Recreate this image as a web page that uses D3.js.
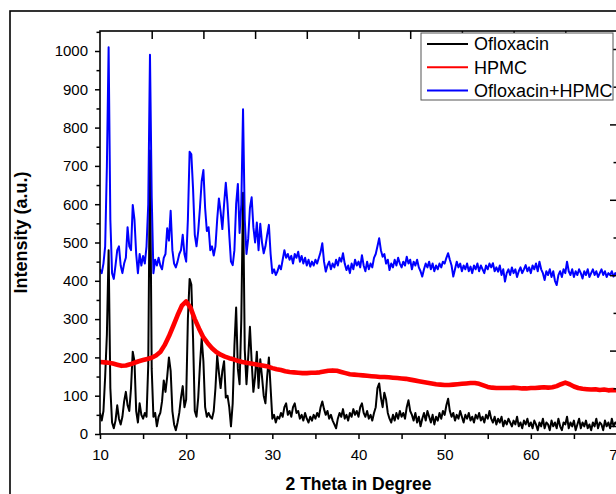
<!DOCTYPE html>
<html>
<head>
<meta charset="utf-8">
<script src="https://cdn.jsdelivr.net/npm/d3@7"></script>
<style>
  body { margin: 0; background: #fff; }
  svg { display: block; font-family: "Liberation Sans", Arial, sans-serif; }
</style>
</head>
<body>
<svg id="chart"></svg>
<script>
// diffractograms, 2 theta from 10 to 70 in steps of 0.2 degree
const thetaStart = 10, thetaStep = 0.2;

const ofloxacin = [
  55, 35, 60, 150, 260, 480, 120, 30, 15, 35,
  75, 40, 25, 45, 85, 110, 75, 60, 120, 215,
  190, 60, 30, 80, 50, 40, 55, 45, 180, 740,
  170, 45, 55, 20, 45, 55, 85, 140, 110, 150,
  200, 165, 60, 25, 10, 30, 55, 95, 125, 70,
  90, 300, 405, 390, 250, 60, 45, 95, 180, 250,
  190, 70, 45, 55, 45, 40, 60, 120, 205, 160,
  120, 165, 190, 95, 100, 70, 20, 80, 230, 330,
  170, 130, 300, 630, 220, 130, 200, 280, 190, 110,
  150, 215, 120, 195, 150, 100, 80, 150, 200, 120,
  40, 50, 30, 45, 40, 55, 45, 70, 80, 50,
  60, 45, 70, 80, 55, 60, 40, 50, 35, 55,
  40, 30, 45, 35, 50, 40, 55, 45, 70, 85,
  65, 50, 60, 40, 50, 35, 25, 15, 40, 55,
  45, 65, 40, 50, 35, 55, 45, 65, 50, 60,
  45, 70, 80, 55, 45, 60, 40, 50, 35, 55,
  70, 120, 132, 95, 70, 108, 90, 55, 40, 30,
  50, 35, 55, 40, 60, 45, 55, 40, 70, 88,
  60, 50, 35, 55, 30, 45, 20, 40, 55, 35,
  60, 45, 30, 50, 25, 45, 35, 55, 40, 60,
  50, 75, 92, 60, 45, 55, 35, 50, 40, 60,
  45, 30, 50, 40, 55, 35, 45, 30, 50, 40,
  55, 35, 45, 30, 50, 40, 60, 40, 30, 45,
  25, 40, 30, 45, 20, 35, 25, 40, 30, 20,
  35, 25, 45, 20, 30, 15, 35, 25, 40, 20,
  30, 15, 35, 25, 10, 30, 20, 40, 15, 30,
  25, 10, 35, 20, 30, 15, 40, 20, 10, 30,
  25, 45, 15, 30, 20, 35, 10, 25, 40, 15,
  30, 20, 35, 15, 25, 10, 30, 20, 40, 15,
  30, 25, 10, 35, 20, 30, 15, 40, 20, 30,
  25
];

const ofloxacinHpmc = [
  430, 420, 445, 490, 700, 1010, 560, 420, 405, 440,
  480, 490, 440, 420, 445, 460, 540, 490, 480, 598,
  560, 470, 420, 470, 440, 465, 445, 490, 600, 990,
  620, 420, 455, 440, 460, 440, 430, 460, 470, 537,
  505, 583, 480, 445, 435, 450, 470, 480, 520, 470,
  450, 560, 737, 730, 640, 520, 490, 530, 590, 660,
  689, 590, 530, 540, 480, 490, 466, 490, 560, 615,
  580, 535, 600, 656, 600, 520, 450, 441, 480, 600,
  653, 525, 600, 848, 560, 470, 510, 590, 618, 540,
  500, 552, 480, 549, 500, 472, 490, 520, 546, 470,
  420, 430, 415, 425, 440, 430, 455, 480, 460, 470,
  455, 465, 445, 470, 460, 476, 450, 465, 445, 460,
  440, 455, 437, 450, 440, 455, 445, 460, 475, 498,
  450, 424, 440, 450, 430, 445, 435, 455, 440, 460,
  450, 472, 445, 428, 440, 420, 445, 430, 455, 440,
  450, 435, 467, 440, 425, 450, 430, 445, 435, 460,
  470, 490, 511, 480, 463, 470, 445, 455, 428, 445,
  435, 455, 440, 460, 445, 435, 450, 440, 463, 445,
  455, 430, 450, 440, 455, 435, 425, 411, 430, 445,
  435, 450, 430, 445, 425, 440, 430, 445, 435, 450,
  445, 460, 472, 455, 440, 411, 430, 450, 435, 445,
  425, 440, 430, 445, 425, 437, 420, 440, 430, 445,
  425, 440, 430, 420, 440, 430, 445, 435, 446, 425,
  435, 424, 440, 415, 430, 398, 420, 430, 415, 435,
  420, 430, 410, 425, 435, 420, 430, 441, 425, 435,
  420, 440, 430, 445, 425, 450, 430, 420, 402, 425,
  415, 430, 410, 425, 400, 389, 415, 425, 410, 430,
  420, 450, 425, 415, 430, 410, 425, 415, 430, 420,
  406, 425, 415, 430, 410, 420, 430, 415, 425, 410,
  420, 430, 415, 425, 410, 420, 415, 425, 411, 420,
  415
];

// HPMC is a broad hump, read every 0.5 degree
const hpmcTheta = d3.range(10, 70.01, 0.5);
const hpmc = [
  188, 187, 186, 184, 181, 178, 179, 182, 186, 190,
  193, 196, 199, 205, 214, 232, 255, 282, 310, 335,
  346, 330, 300, 275, 252, 237, 224, 214, 207, 202,
  198, 195, 191, 188, 186, 184, 182, 180, 178, 176,
  172, 169, 167, 164, 162, 161, 160, 159, 159, 160,
  160, 161, 163, 165, 166, 165, 162, 159, 156, 155,
  154, 153, 152, 151, 150, 149, 149, 148, 147, 146,
  145, 144, 142, 140, 138, 136, 134, 132, 130, 129,
  128, 128, 129, 130, 131, 132, 133, 133, 131, 127,
  123, 121, 120, 120, 120, 120, 121, 120, 119, 119,
  120, 120, 121, 122, 121, 122, 125, 130, 134, 130,
  124, 120, 118, 117, 116, 117, 115, 116, 114, 115,
  114
];

const seriesNames = ["Ofloxacin", "HPMC", "Ofloxacin+HPMC"];
const seriesColors = ["#000000", "#ff0000", "#0000ff"];
const xTickValues = [10, 15, 20, 25, 30, 35, 40, 45, 50, 55, 60, 65, 70];
const yMajorTicks = [0, 100, 200, 300, 400, 500, 600, 700, 800, 900, 1000];
const yMinorTicks = [50, 150, 250, 350, 450, 550, 650, 750, 850, 950, 1050];

drawChart();

function toPoints(values, thetas) {
    return values.map(function (v, i) {
        return { theta: thetas ? thetas[i] : thetaStart + i * thetaStep, value: v };
    });
}

function drawChart() {
    let svgWidth = 616, svgHeight = 494;
    let plot = { left: 100, right: 617, top: 31, bottom: 434 };

    let svg = d3.select('#chart')
        .attr("width", svgWidth)
        .attr("height", svgHeight);

    svg.append("rect")
        .attr("width", svgWidth).attr("height", svgHeight)
        .attr("fill", "#fff");

    // outer graph frame
    svg.append("rect")
        .attr("x", 10).attr("y", 11)
        .attr("width", 700).attr("height", 600)
        .attr("fill", "none")
        .attr("stroke", "#000")
        .attr("stroke-width", 1.6);

    let x = d3.scaleLinear().domain([10, 70]).range([plot.left, plot.right]);
    let y = d3.scaleLinear().domain([0, 1000]).range([plot.bottom, 51]);

    svg.append("clipPath").attr("id", "plotClip")
        .append("rect")
        .attr("x", plot.left).attr("y", plot.top)
        .attr("width", plot.right - plot.left)
        .attr("height", plot.bottom - plot.top);

    let line = d3.line()
        .x(function (d) { return x(d.theta); })
        .y(function (d) { return y(d.value); });

    let series = [
        { data: toPoints(ofloxacin), color: seriesColors[0], width: 2 },
        { data: toPoints(hpmc, hpmcTheta), color: seriesColors[1], width: 4.6 },
        { data: toPoints(ofloxacinHpmc), color: seriesColors[2], width: 2 }
    ];

    let lines = svg.append("g").attr("clip-path", "url(#plotClip)");
    series.forEach(function (s) {
        lines.append("path")
            .datum(s.data)
            .attr("fill", "none")
            .attr("stroke", s.color)
            .attr("stroke-width", s.width)
            .attr("stroke-linejoin", "round")
            .attr("d", line);
    });

    // left axis: minor then major ticks
    svg.append("g")
        .attr("transform", "translate(" + plot.left + ",0)")
        .call(d3.axisLeft(y).tickValues(yMinorTicks).tickSize(3.5).tickSizeOuter(0).tickFormat(""))
        .call(function (g) { g.select(".domain").remove(); });

    svg.append("g")
        .attr("transform", "translate(" + plot.left + ",0)")
        .call(d3.axisLeft(y).tickValues(yMajorTicks).tickSize(5).tickSizeOuter(0).tickPadding(7)
            .tickFormat(d3.format("d")))
        .call(function (g) { g.select(".domain").remove(); })
        .selectAll("text")
        .attr("font-size", 15)
        .attr("font-family", "Liberation Sans, Arial, sans-serif");

    // bottom axis
    svg.append("g")
        .attr("transform", "translate(0," + plot.bottom + ")")
        .call(d3.axisBottom(x).tickValues(xTickValues).tickSize(5).tickSizeOuter(0).tickPadding(10)
            .tickFormat(function (d) { return d % 10 === 0 ? d : ""; }))
        .call(function (g) { g.select(".domain").remove(); })
        .selectAll("text")
        .attr("font-size", 15)
        .attr("font-family", "Liberation Sans, Arial, sans-serif");

    // top axis, ticks pointing in
    let xTop = d3.scaleLinear().domain([0, 10]).range([plot.left, plot.right]);
    svg.append("g")
        .attr("transform", "translate(0," + plot.top + ")")
        .call(d3.axisBottom(xTop).tickValues(d3.range(1, 11)).tickSize(8).tickSizeOuter(0).tickFormat(""))
        .call(function (g) { g.select(".domain").remove(); });

    // right axis, ticks pointing in, long/short alternating
    let yRight = d3.scaleLinear().domain([0, 10]).range([426, 49]);
    svg.append("g")
        .attr("transform", "translate(" + plot.right + ",0)")
        .call(d3.axisLeft(yRight).tickValues(d3.range(0, 11)).tickSize(7).tickSizeOuter(0).tickFormat(""))
        .call(function (g) { g.select(".domain").remove(); })
        .selectAll(".tick line")
        .attr("x2", function (d) { return d % 2 === 0 ? -7 : -3.5; });

    svg.selectAll(".tick line").attr("stroke-width", 1.5);

    // plot frame
    svg.append("rect")
        .attr("x", plot.left).attr("y", plot.top)
        .attr("width", plot.right - plot.left)
        .attr("height", plot.bottom - plot.top)
        .attr("fill", "none")
        .attr("stroke", "#000")
        .attr("stroke-width", 1.6);

    // axis titles
    svg.append("text")
        .attr("x", (plot.left + plot.right) / 2)
        .attr("y", 490)
        .attr("text-anchor", "middle")
        .attr("font-size", 17.5)
        .attr("font-weight", "bold")
        .text("2 Theta in Degree");

    svg.append("text")
        .attr("transform", "translate(27," + ((plot.top + plot.bottom) / 2) + ") rotate(-90)")
        .attr("text-anchor", "middle")
        .attr("font-size", 18)
        .attr("font-weight", "bold")
        .text("Intensity (a.u.)");

    // legend
    let legend = svg.append("g").attr("transform", "translate(421,33)");
    legend.append("rect")
        .attr("width", 192).attr("height", 67)
        .attr("fill", "#fff")
        .attr("stroke", "#555")
        .attr("stroke-width", 1);

    seriesNames.forEach(function (name, i) {
        let cy = 11 + i * 23.3;
        legend.append("line")
            .attr("x1", 6).attr("x2", 47)
            .attr("y1", cy).attr("y2", cy)
            .attr("stroke", seriesColors[i])
            .attr("stroke-width", 2);
        legend.append("text")
            .attr("x", 53).attr("y", cy + 6.4)
            .attr("font-size", 18)
            .text(name);
    });
}
</script>
</body>
</html>
